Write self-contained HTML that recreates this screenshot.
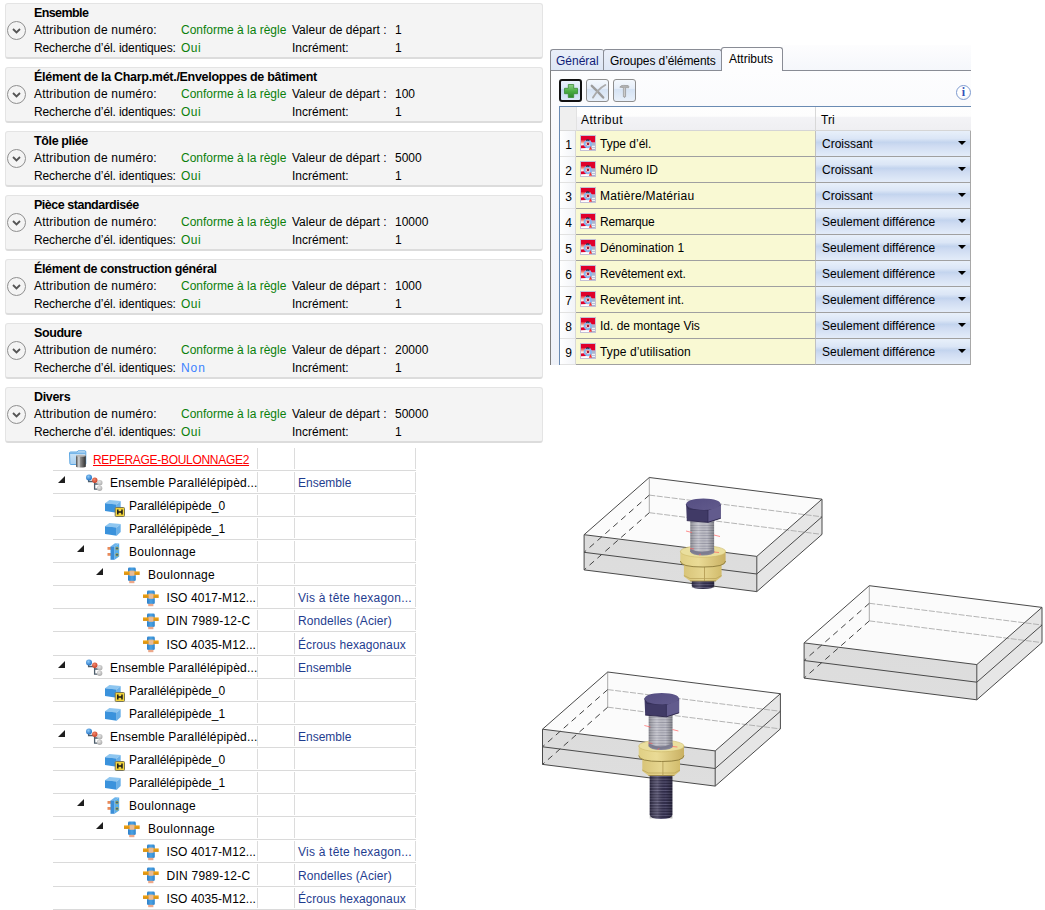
<!DOCTYPE html>
<html><head><meta charset="utf-8">
<style>
*{box-sizing:border-box;margin:0;padding:0}
html,body{width:1045px;height:910px;overflow:hidden;background:#fff;font-family:"Liberation Sans",sans-serif;font-size:12px;color:#000}
.a{position:absolute;white-space:nowrap;line-height:14px}
.pn{position:absolute;left:5px;width:538px;height:56px;background:#f4f4f4;border:1px solid #e4e4e4;border-bottom:2px solid #dcdcdc;border-radius:3px}
.pn .t{left:28px;top:2px;font-weight:bold;font-size:12.5px}
.pn .l1,.pn .l2{left:28px}
.pn .l1{top:19px}.pn .l2{top:37px}
.pn .g{color:#0b800b}
.pn .bl{color:#3b82ff}
.pn .c1{left:175px}
.pn .c2{left:286px}
.pn .c3{left:389px}
.pn .circ{position:absolute;left:1px;top:17px;width:19px;height:19px;border:1px solid #8f8f8f;border-radius:50%;background:#f4f4f4}
.pn .circ svg{position:absolute;left:4px;top:6px}
.rp{position:absolute;left:0;top:0;width:971px;height:365px;clip-path:inset(0 0 0 545px);overflow:hidden}
.tab{position:absolute;top:49px;height:22px;border:1px solid #898c95;border-bottom:none;border-radius:3px 3px 0 0;background:linear-gradient(#eaeff9,#dde6f5);font-size:12px;line-height:22px;padding-left:6px}
.t1{left:550px;width:54px;color:#101c78;border-right:none;padding-left:5px;letter-spacing:0px}
.t2{left:603px;width:119px;border-left:1px solid #898c95;padding-left:6px;letter-spacing:-0.1px}
.t3{left:721px;top:47px;height:24px;width:62px;background:#fdfdfe;padding-left:7px;line-height:22px;z-index:2}
.panelbox{position:absolute;left:550px;top:70px;width:430px;height:300px;border-left:1px solid #7d7d7d;border-top:1px solid #898c95;background:linear-gradient(#fdfdfe 0%,#f8f9fc 20%,#eef1f8 100%)}
.btn{position:absolute;top:79px;width:23px;height:23px;border:1px solid #8e8e8e;border-radius:3px;background:linear-gradient(#f4f8fd 0%,#e6eef9 40%,#d6e3f4 45%,#e8f0fa 100%)}
.btn svg{position:absolute}
.b1{left:559px;border:2px solid #111;background:linear-gradient(#eaf2fc 0%,#d8e6f8 40%,#c2d6f0 45%,#dde9f8 100%)}
.b1 svg{left:3px;top:3px}
.b2{left:586px}.b2 svg{left:2px;top:2px}
.b3{left:613px}.b3 svg{left:4px;top:3px}
.info{position:absolute;left:956px;top:85px;width:15px;height:15px;border:1px solid #7f9bcf;border-radius:50%;background:radial-gradient(circle at 40% 35%,#fff 50%,#e8ecf4);text-align:center}
.info span{position:absolute;left:0;width:13px;top:-1px;font:bold 12px "Liberation Serif",serif;color:#3452b8;line-height:14px}
.tbl{position:absolute;left:559px;top:106px;width:420px;height:260px;border-left:1px solid #6a8bb3;border-top:1px solid #6a8bb3;overflow:hidden}
.corner{position:absolute;left:0;top:0;width:16px;height:24px;background:#efefef;border-bottom:1px solid #dadada}
.hd{position:absolute;top:0;height:24px;background:linear-gradient(#fefefe 0%,#fdfdfd 40%,#f3f3f6 45%,#efeff2 100%);border-bottom:1px solid #d5d5d5;line-height:26px;padding-left:4px;font-size:12px}
.hd1{left:16px;width:240px;border-left:1px solid #e2e2e2;letter-spacing:0.5px}
.hd2{left:255px;width:161px;padding-left:5px;border-left:1px solid #d8d8d8}
.rn{position:absolute;left:0;width:16px;height:26px;background:linear-gradient(90deg,#fff,#f2f4f8);border-right:1px solid #d8d8d8;border-bottom:1px solid #e2e2e2;font-size:12px;line-height:27px;text-align:center}
.rn span{position:relative;left:1px;top:1px}
.ra{position:absolute;left:16px;width:239px;height:26px;background:#f9f9d3;border-bottom:1px solid #a0a0a0;font-size:12px;line-height:27px}
.ra .ric{position:absolute;left:4px;top:4px}
.ra span{position:absolute;left:24px}
.rt{position:absolute;left:255px;width:156px;height:26px;border-left:1px solid #c0c0c0;border-right:1px solid #a8a8a8;border-bottom:1px solid #a0a0a0;background:linear-gradient(#e8f0fa 0%,#dbe6f6 30%,#c3d4ee 45%,#cfdcf2 60%,#e3ecf9 100%);font-size:12px;line-height:27px}
.rt span{position:absolute;left:6px}
.rt i{position:absolute;left:142px;top:10px;width:0;height:0;border-left:4px solid transparent;border-right:4px solid transparent;border-top:4.5px solid #000}
.rclip{position:absolute;left:0;top:365px;width:1045px;height:5px;background:#fff}
.tree{position:absolute;left:0;top:0;width:1045px;height:910px}
.tr{position:absolute;left:0;width:416px;border-bottom:1px solid #dadada;margin-left:0}
.tr::before{content:"";position:absolute;left:0;width:53px;top:0;bottom:-1px;background:#fff}
.tr .v{position:absolute;top:1px;bottom:1px;width:1px;background:#dcdcdc}
.tr .v1{left:257px}.tr .v2{left:294px}.tr .v3{left:415px}
.tr .tri{position:absolute;top:5px}
.tr .ic{position:absolute}
.tt{position:absolute;top:1px;line-height:23px;font-size:12px;white-space:nowrap}
.tt.red{color:#f00;text-decoration:underline;text-underline-offset:1px}
.tt.c3{left:298px;color:#1f3d8f}
.tabbg{position:absolute;left:782px;top:45px;width:189px;height:25px;background:linear-gradient(#fdfdfe,#f5f7fb)}

</style></head><body>
<div class="pn" style="top:3px">
<div class="circ"><svg width="9" height="6" viewBox="0 0 9 6"><path d="M1 1 L4.5 4.5 L8 1" fill="none" stroke="#555" stroke-width="1.8"/></svg></div>
<div class="a t" style="letter-spacing:-0.6px">Ensemble</div>
<div class="a l1" style="letter-spacing:0.22px">Attribution de numéro:</div><div class="a l1 c1 g">Conforme à la règle</div><div class="a l1 c2">Valeur de départ :</div><div class="a l1 c3">1</div>
<div class="a l2" style="letter-spacing:-0.11px">Recherche d’él. identiques:</div><div class="a l2 c1 g" style="letter-spacing:0.5px">Oui</div><div class="a l2 c2">Incrément:</div><div class="a l2 c3">1</div>
</div>
<div class="pn" style="top:67px">
<div class="circ"><svg width="9" height="6" viewBox="0 0 9 6"><path d="M1 1 L4.5 4.5 L8 1" fill="none" stroke="#555" stroke-width="1.8"/></svg></div>
<div class="a t" style="letter-spacing:-0.29px">Élément de la Charp.mét./Enveloppes de bâtiment</div>
<div class="a l1" style="letter-spacing:0.22px">Attribution de numéro:</div><div class="a l1 c1 g">Conforme à la règle</div><div class="a l1 c2">Valeur de départ :</div><div class="a l1 c3">100</div>
<div class="a l2" style="letter-spacing:-0.11px">Recherche d’él. identiques:</div><div class="a l2 c1 g" style="letter-spacing:0.5px">Oui</div><div class="a l2 c2">Incrément:</div><div class="a l2 c3">1</div>
</div>
<div class="pn" style="top:131px">
<div class="circ"><svg width="9" height="6" viewBox="0 0 9 6"><path d="M1 1 L4.5 4.5 L8 1" fill="none" stroke="#555" stroke-width="1.8"/></svg></div>
<div class="a t" style="letter-spacing:-0.37px">Tôle pliée</div>
<div class="a l1" style="letter-spacing:0.22px">Attribution de numéro:</div><div class="a l1 c1 g">Conforme à la règle</div><div class="a l1 c2">Valeur de départ :</div><div class="a l1 c3">5000</div>
<div class="a l2" style="letter-spacing:-0.11px">Recherche d’él. identiques:</div><div class="a l2 c1 g" style="letter-spacing:0.5px">Oui</div><div class="a l2 c2">Incrément:</div><div class="a l2 c3">1</div>
</div>
<div class="pn" style="top:195px">
<div class="circ"><svg width="9" height="6" viewBox="0 0 9 6"><path d="M1 1 L4.5 4.5 L8 1" fill="none" stroke="#555" stroke-width="1.8"/></svg></div>
<div class="a t" style="letter-spacing:-0.48px">Pièce standardisée</div>
<div class="a l1" style="letter-spacing:0.22px">Attribution de numéro:</div><div class="a l1 c1 g">Conforme à la règle</div><div class="a l1 c2">Valeur de départ :</div><div class="a l1 c3">10000</div>
<div class="a l2" style="letter-spacing:-0.11px">Recherche d’él. identiques:</div><div class="a l2 c1 g" style="letter-spacing:0.5px">Oui</div><div class="a l2 c2">Incrément:</div><div class="a l2 c3">1</div>
</div>
<div class="pn" style="top:259px">
<div class="circ"><svg width="9" height="6" viewBox="0 0 9 6"><path d="M1 1 L4.5 4.5 L8 1" fill="none" stroke="#555" stroke-width="1.8"/></svg></div>
<div class="a t" style="letter-spacing:-0.36px">Élément de construction général</div>
<div class="a l1" style="letter-spacing:0.22px">Attribution de numéro:</div><div class="a l1 c1 g">Conforme à la règle</div><div class="a l1 c2">Valeur de départ :</div><div class="a l1 c3">1000</div>
<div class="a l2" style="letter-spacing:-0.11px">Recherche d’él. identiques:</div><div class="a l2 c1 g" style="letter-spacing:0.5px">Oui</div><div class="a l2 c2">Incrément:</div><div class="a l2 c3">1</div>
</div>
<div class="pn" style="top:323px">
<div class="circ"><svg width="9" height="6" viewBox="0 0 9 6"><path d="M1 1 L4.5 4.5 L8 1" fill="none" stroke="#555" stroke-width="1.8"/></svg></div>
<div class="a t" style="letter-spacing:-0.41px">Soudure</div>
<div class="a l1" style="letter-spacing:0.22px">Attribution de numéro:</div><div class="a l1 c1 g">Conforme à la règle</div><div class="a l1 c2">Valeur de départ :</div><div class="a l1 c3">20000</div>
<div class="a l2" style="letter-spacing:-0.11px">Recherche d’él. identiques:</div><div class="a l2 c1 bl" style="letter-spacing:0.9px">Non</div><div class="a l2 c2">Incrément:</div><div class="a l2 c3">1</div>
</div>
<div class="pn" style="top:387px">
<div class="circ"><svg width="9" height="6" viewBox="0 0 9 6"><path d="M1 1 L4.5 4.5 L8 1" fill="none" stroke="#555" stroke-width="1.8"/></svg></div>
<div class="a t" style="letter-spacing:-0.32px">Divers</div>
<div class="a l1" style="letter-spacing:0.22px">Attribution de numéro:</div><div class="a l1 c1 g">Conforme à la règle</div><div class="a l1 c2">Valeur de départ :</div><div class="a l1 c3">50000</div>
<div class="a l2" style="letter-spacing:-0.11px">Recherche d’él. identiques:</div><div class="a l2 c1 g" style="letter-spacing:0.5px">Oui</div><div class="a l2 c2">Incrément:</div><div class="a l2 c3">1</div>
</div>
<div class="rp">
<svg width="0" height="0" style="position:absolute"><defs><linearGradient id="ricg" x1="0" y1="0" x2="0" y2="1"><stop offset="0" stop-color="#e8203a"/><stop offset="0.35" stop-color="#f38a78"/><stop offset="0.7" stop-color="#fbe0d8"/><stop offset="1" stop-color="#fff"/></linearGradient></defs></svg>
<div class="tabbg"></div>
<div class="tab t1">Général</div>
<div class="tab t2">Groupes d’éléments</div>
<div class="panelbox"></div>
<div class="tab t3">Attributs</div>
<div class="btn b1"><svg width="14" height="14" viewBox="0 0 14 14"><defs><linearGradient id="gp" x1="0" y1="0" x2="0" y2="1"><stop offset="0" stop-color="#8fd08a"/><stop offset="0.5" stop-color="#4caf45"/><stop offset="1" stop-color="#2d8a2a"/></linearGradient></defs><path d="M4.3 0.5 H9.7 V4.3 H13.5 V9.7 H9.7 V13.5 H4.3 V9.7 H0.5 V4.3 H4.3Z" fill="url(#gp)" stroke="#3a8c36" stroke-width="0.8"/></svg></div>
<div class="btn b2"><svg width="18" height="18" viewBox="0 0 18 18"><path d="M2.8 3.8 Q8.5 9 14.2 15.5" fill="none" stroke="#9c9c9c" stroke-width="2.4" stroke-linecap="round"/><path d="M16.3 3 Q9 7 4 15.6" fill="none" stroke="#ababab" stroke-width="1.9" stroke-linecap="round"/></svg></div>
<div class="btn b3"><svg width="14" height="16" viewBox="0 0 14 16"><path d="M1.8 4.2 Q2.5 2.2 5.5 2.4 L10.2 2.6 Q11.2 3.2 10.6 4.8 L7.6 4.6 L7.6 13.6 Q6.6 15.4 5.4 13.6 L5.4 4.6 Q3.8 4.4 1.8 4.2Z" fill="#b2b2b2" stroke="#8a8a8a" stroke-width="0.6"/><path d="M6.3 5 L6.3 13" stroke="#dedede" stroke-width="0.7"/></svg></div>
<div class="info"><span>i</span></div>
<div class="tbl">
<div class="corner"></div>
<div class="hd hd1">Attribut</div>
<div class="hd hd2">Tri</div>
<div class="rn" style="top:24px"><span>1</span></div><div class="ra" style="top:24px"><svg class="ric" width="16" height="16" viewBox="0 0 16 16"><rect x="0.5" y="0.5" width="15" height="15" fill="#fff" stroke="#c4c0d4"/><rect x="1" y="1" width="14" height="4.2" fill="#e0002a"/><rect x="1" y="5" width="10" height="5.4" fill="url(#ricg)"/><rect x="11" y="5" width="4" height="2.7" fill="#e0002a"/><rect x="11" y="7.5" width="4" height="7.5" fill="#a9b5cf"/><rect x="12" y="10.8" width="3" height="1" fill="#fff"/><rect x="12" y="12.8" width="3" height="1" fill="#fff"/><path d="M1 10.4 L6.5 10 L6.5 13 L1 13.3Z" fill="#e0002a"/><circle cx="7.8" cy="9" r="3.2" fill="none" stroke="#8ab6ee" stroke-width="2"/><path d="M6.2 5.4 Q7.8 4.3 9.4 5.4" fill="none" stroke="#1e2636" stroke-width="1.2"/><circle cx="8" cy="9.1" r="1.3" fill="#a81c3c"/><path d="M8.9 14.8 L10.4 11.1 L11.9 14.8Z" fill="#ff2a2a"/></svg><span style="letter-spacing:0px">Type d’él.</span></div><div class="rt" style="top:24px"><span>Croissant</span><i></i></div>
<div class="rn" style="top:50px"><span>2</span></div><div class="ra" style="top:50px"><svg class="ric" width="16" height="16" viewBox="0 0 16 16"><rect x="0.5" y="0.5" width="15" height="15" fill="#fff" stroke="#c4c0d4"/><rect x="1" y="1" width="14" height="4.2" fill="#e0002a"/><rect x="1" y="5" width="10" height="5.4" fill="url(#ricg)"/><rect x="11" y="5" width="4" height="2.7" fill="#e0002a"/><rect x="11" y="7.5" width="4" height="7.5" fill="#a9b5cf"/><rect x="12" y="10.8" width="3" height="1" fill="#fff"/><rect x="12" y="12.8" width="3" height="1" fill="#fff"/><path d="M1 10.4 L6.5 10 L6.5 13 L1 13.3Z" fill="#e0002a"/><circle cx="7.8" cy="9" r="3.2" fill="none" stroke="#8ab6ee" stroke-width="2"/><path d="M6.2 5.4 Q7.8 4.3 9.4 5.4" fill="none" stroke="#1e2636" stroke-width="1.2"/><circle cx="8" cy="9.1" r="1.3" fill="#a81c3c"/><path d="M8.9 14.8 L10.4 11.1 L11.9 14.8Z" fill="#ff2a2a"/></svg><span style="letter-spacing:0px">Numéro ID</span></div><div class="rt" style="top:50px"><span>Croissant</span><i></i></div>
<div class="rn" style="top:76px"><span>3</span></div><div class="ra" style="top:76px"><svg class="ric" width="16" height="16" viewBox="0 0 16 16"><rect x="0.5" y="0.5" width="15" height="15" fill="#fff" stroke="#c4c0d4"/><rect x="1" y="1" width="14" height="4.2" fill="#e0002a"/><rect x="1" y="5" width="10" height="5.4" fill="url(#ricg)"/><rect x="11" y="5" width="4" height="2.7" fill="#e0002a"/><rect x="11" y="7.5" width="4" height="7.5" fill="#a9b5cf"/><rect x="12" y="10.8" width="3" height="1" fill="#fff"/><rect x="12" y="12.8" width="3" height="1" fill="#fff"/><path d="M1 10.4 L6.5 10 L6.5 13 L1 13.3Z" fill="#e0002a"/><circle cx="7.8" cy="9" r="3.2" fill="none" stroke="#8ab6ee" stroke-width="2"/><path d="M6.2 5.4 Q7.8 4.3 9.4 5.4" fill="none" stroke="#1e2636" stroke-width="1.2"/><circle cx="8" cy="9.1" r="1.3" fill="#a81c3c"/><path d="M8.9 14.8 L10.4 11.1 L11.9 14.8Z" fill="#ff2a2a"/></svg><span style="letter-spacing:0.27px">Matière/Matériau</span></div><div class="rt" style="top:76px"><span>Croissant</span><i></i></div>
<div class="rn" style="top:102px"><span>4</span></div><div class="ra" style="top:102px"><svg class="ric" width="16" height="16" viewBox="0 0 16 16"><rect x="0.5" y="0.5" width="15" height="15" fill="#fff" stroke="#c4c0d4"/><rect x="1" y="1" width="14" height="4.2" fill="#e0002a"/><rect x="1" y="5" width="10" height="5.4" fill="url(#ricg)"/><rect x="11" y="5" width="4" height="2.7" fill="#e0002a"/><rect x="11" y="7.5" width="4" height="7.5" fill="#a9b5cf"/><rect x="12" y="10.8" width="3" height="1" fill="#fff"/><rect x="12" y="12.8" width="3" height="1" fill="#fff"/><path d="M1 10.4 L6.5 10 L6.5 13 L1 13.3Z" fill="#e0002a"/><circle cx="7.8" cy="9" r="3.2" fill="none" stroke="#8ab6ee" stroke-width="2"/><path d="M6.2 5.4 Q7.8 4.3 9.4 5.4" fill="none" stroke="#1e2636" stroke-width="1.2"/><circle cx="8" cy="9.1" r="1.3" fill="#a81c3c"/><path d="M8.9 14.8 L10.4 11.1 L11.9 14.8Z" fill="#ff2a2a"/></svg><span style="letter-spacing:-0.2px">Remarque</span></div><div class="rt" style="top:102px"><span>Seulement différence</span><i></i></div>
<div class="rn" style="top:128px"><span>5</span></div><div class="ra" style="top:128px"><svg class="ric" width="16" height="16" viewBox="0 0 16 16"><rect x="0.5" y="0.5" width="15" height="15" fill="#fff" stroke="#c4c0d4"/><rect x="1" y="1" width="14" height="4.2" fill="#e0002a"/><rect x="1" y="5" width="10" height="5.4" fill="url(#ricg)"/><rect x="11" y="5" width="4" height="2.7" fill="#e0002a"/><rect x="11" y="7.5" width="4" height="7.5" fill="#a9b5cf"/><rect x="12" y="10.8" width="3" height="1" fill="#fff"/><rect x="12" y="12.8" width="3" height="1" fill="#fff"/><path d="M1 10.4 L6.5 10 L6.5 13 L1 13.3Z" fill="#e0002a"/><circle cx="7.8" cy="9" r="3.2" fill="none" stroke="#8ab6ee" stroke-width="2"/><path d="M6.2 5.4 Q7.8 4.3 9.4 5.4" fill="none" stroke="#1e2636" stroke-width="1.2"/><circle cx="8" cy="9.1" r="1.3" fill="#a81c3c"/><path d="M8.9 14.8 L10.4 11.1 L11.9 14.8Z" fill="#ff2a2a"/></svg><span style="letter-spacing:0px">Dénomination 1</span></div><div class="rt" style="top:128px"><span>Seulement différence</span><i></i></div>
<div class="rn" style="top:154px"><span>6</span></div><div class="ra" style="top:154px"><svg class="ric" width="16" height="16" viewBox="0 0 16 16"><rect x="0.5" y="0.5" width="15" height="15" fill="#fff" stroke="#c4c0d4"/><rect x="1" y="1" width="14" height="4.2" fill="#e0002a"/><rect x="1" y="5" width="10" height="5.4" fill="url(#ricg)"/><rect x="11" y="5" width="4" height="2.7" fill="#e0002a"/><rect x="11" y="7.5" width="4" height="7.5" fill="#a9b5cf"/><rect x="12" y="10.8" width="3" height="1" fill="#fff"/><rect x="12" y="12.8" width="3" height="1" fill="#fff"/><path d="M1 10.4 L6.5 10 L6.5 13 L1 13.3Z" fill="#e0002a"/><circle cx="7.8" cy="9" r="3.2" fill="none" stroke="#8ab6ee" stroke-width="2"/><path d="M6.2 5.4 Q7.8 4.3 9.4 5.4" fill="none" stroke="#1e2636" stroke-width="1.2"/><circle cx="8" cy="9.1" r="1.3" fill="#a81c3c"/><path d="M8.9 14.8 L10.4 11.1 L11.9 14.8Z" fill="#ff2a2a"/></svg><span style="letter-spacing:-0.11px">Revêtement ext.</span></div><div class="rt" style="top:154px"><span>Seulement différence</span><i></i></div>
<div class="rn" style="top:180px"><span>7</span></div><div class="ra" style="top:180px"><svg class="ric" width="16" height="16" viewBox="0 0 16 16"><rect x="0.5" y="0.5" width="15" height="15" fill="#fff" stroke="#c4c0d4"/><rect x="1" y="1" width="14" height="4.2" fill="#e0002a"/><rect x="1" y="5" width="10" height="5.4" fill="url(#ricg)"/><rect x="11" y="5" width="4" height="2.7" fill="#e0002a"/><rect x="11" y="7.5" width="4" height="7.5" fill="#a9b5cf"/><rect x="12" y="10.8" width="3" height="1" fill="#fff"/><rect x="12" y="12.8" width="3" height="1" fill="#fff"/><path d="M1 10.4 L6.5 10 L6.5 13 L1 13.3Z" fill="#e0002a"/><circle cx="7.8" cy="9" r="3.2" fill="none" stroke="#8ab6ee" stroke-width="2"/><path d="M6.2 5.4 Q7.8 4.3 9.4 5.4" fill="none" stroke="#1e2636" stroke-width="1.2"/><circle cx="8" cy="9.1" r="1.3" fill="#a81c3c"/><path d="M8.9 14.8 L10.4 11.1 L11.9 14.8Z" fill="#ff2a2a"/></svg><span style="letter-spacing:0px">Revêtement int.</span></div><div class="rt" style="top:180px"><span>Seulement différence</span><i></i></div>
<div class="rn" style="top:206px"><span>8</span></div><div class="ra" style="top:206px"><svg class="ric" width="16" height="16" viewBox="0 0 16 16"><rect x="0.5" y="0.5" width="15" height="15" fill="#fff" stroke="#c4c0d4"/><rect x="1" y="1" width="14" height="4.2" fill="#e0002a"/><rect x="1" y="5" width="10" height="5.4" fill="url(#ricg)"/><rect x="11" y="5" width="4" height="2.7" fill="#e0002a"/><rect x="11" y="7.5" width="4" height="7.5" fill="#a9b5cf"/><rect x="12" y="10.8" width="3" height="1" fill="#fff"/><rect x="12" y="12.8" width="3" height="1" fill="#fff"/><path d="M1 10.4 L6.5 10 L6.5 13 L1 13.3Z" fill="#e0002a"/><circle cx="7.8" cy="9" r="3.2" fill="none" stroke="#8ab6ee" stroke-width="2"/><path d="M6.2 5.4 Q7.8 4.3 9.4 5.4" fill="none" stroke="#1e2636" stroke-width="1.2"/><circle cx="8" cy="9.1" r="1.3" fill="#a81c3c"/><path d="M8.9 14.8 L10.4 11.1 L11.9 14.8Z" fill="#ff2a2a"/></svg><span style="letter-spacing:0px">Id. de montage Vis</span></div><div class="rt" style="top:206px"><span>Seulement différence</span><i></i></div>
<div class="rn" style="top:232px"><span>9</span></div><div class="ra" style="top:232px"><svg class="ric" width="16" height="16" viewBox="0 0 16 16"><rect x="0.5" y="0.5" width="15" height="15" fill="#fff" stroke="#c4c0d4"/><rect x="1" y="1" width="14" height="4.2" fill="#e0002a"/><rect x="1" y="5" width="10" height="5.4" fill="url(#ricg)"/><rect x="11" y="5" width="4" height="2.7" fill="#e0002a"/><rect x="11" y="7.5" width="4" height="7.5" fill="#a9b5cf"/><rect x="12" y="10.8" width="3" height="1" fill="#fff"/><rect x="12" y="12.8" width="3" height="1" fill="#fff"/><path d="M1 10.4 L6.5 10 L6.5 13 L1 13.3Z" fill="#e0002a"/><circle cx="7.8" cy="9" r="3.2" fill="none" stroke="#8ab6ee" stroke-width="2"/><path d="M6.2 5.4 Q7.8 4.3 9.4 5.4" fill="none" stroke="#1e2636" stroke-width="1.2"/><circle cx="8" cy="9.1" r="1.3" fill="#a81c3c"/><path d="M8.9 14.8 L10.4 11.1 L11.9 14.8Z" fill="#ff2a2a"/></svg><span style="letter-spacing:0.12px">Type d’utilisation</span></div><div class="rt" style="top:232px"><span>Seulement différence</span><i></i></div>
</div></div>
<svg width="0" height="0" style="position:absolute">
<defs>
<linearGradient id="cylg" x1="0" y1="0" x2="1" y2="0"><stop offset="0" stop-color="#4a4a4a"/><stop offset="0.3" stop-color="#dcdcdc"/><stop offset="0.45" stop-color="#8a8a8a"/><stop offset="1" stop-color="#2e2e2e"/></linearGradient>
<linearGradient id="fldg" x1="0" y1="0" x2="0" y2="1"><stop offset="0" stop-color="#cfe6f8"/><stop offset="1" stop-color="#a9d0f0"/></linearGradient>
<radialGradient id="bb" cx="0.4" cy="0.35" r="0.7"><stop offset="0" stop-color="#8cc8f8"/><stop offset="1" stop-color="#1a6cc0"/></radialGradient>
<radialGradient id="rb" cx="0.4" cy="0.35" r="0.7"><stop offset="0" stop-color="#f08a70"/><stop offset="1" stop-color="#c8381e"/></radialGradient>
<radialGradient id="gb" cx="0.4" cy="0.35" r="0.7"><stop offset="0" stop-color="#e8e8e8"/><stop offset="1" stop-color="#a8a8a8"/></radialGradient>
<linearGradient id="orb" x1="0" y1="0" x2="0" y2="1"><stop offset="0" stop-color="#f4a81a"/><stop offset="1" stop-color="#d48a08"/></linearGradient>
<linearGradient id="blb" x1="0" y1="0" x2="1" y2="0"><stop offset="0" stop-color="#2f7fc8"/><stop offset="0.5" stop-color="#49a2e4"/><stop offset="1" stop-color="#2f84cc"/></linearGradient>
</defs></svg><div class="tree">
<div class="tr" style="top:447px;height:24px"><i class="v v1"></i><i class="v v2"></i><i class="v v3"></i><svg class="ic" style="left:69px;top:3.0px" width="18" height="19" viewBox="0 0 18 19"><path d="M0.5 3 Q0.5 2 1.5 2 L8 2 L9 0.8 L16 0.8 Q16.8 0.8 16.8 2 L16.8 13.5 Q16.8 14.5 15.8 14.5 L2 14.5 Q1 14.5 0.9 13.5Z" fill="url(#fldg)" stroke="#5ca6e2" stroke-width="1"/><path d="M1 3.2 L16.5 3.2" stroke="#6fb2e8" stroke-width="1.4"/><path d="M7 6 Q7 5 11.8 5 Q16.8 5 16.8 6 L16.8 16.5 Q16.8 17.6 11.8 17.6 Q7 17.6 7 16.5Z" fill="url(#cylg)"/><ellipse cx="11.9" cy="5.8" rx="4.9" ry="1" fill="#b8b8b8"/></svg><span class="tt red" style="left:93px;top:2px;letter-spacing:-0.3px">REPERAGE-BOULONNAGE2</span></div>
<div class="tr" style="top:471px;height:23px"><i class="v v1"></i><i class="v v2"></i><i class="v v3"></i><svg class="tri" style="left:58px;top:5.0px" width="8" height="8" viewBox="0 0 8 8"><path d="M0 7 L7 7 L7 0Z" fill="#1e1e1e"/></svg><svg class="ic" style="left:86px;top:3.0px" width="18" height="20" viewBox="0 0 18 20"><path d="M2.6 4 V7.5 H8.5 M8.6 8 V15.2 H13 M8.6 10 H13" fill="none" stroke="#4e5e6c" stroke-width="1.3"/><circle cx="3" cy="3.5" r="3" fill="url(#bb)"/><circle cx="8.8" cy="6.3" r="2.7" fill="url(#rb)"/><circle cx="13.8" cy="8.8" r="2.7" fill="url(#gb)"/><circle cx="13.6" cy="14.2" r="2.7" fill="url(#gb)"/></svg><span class="tt" style="left:110px;top:1px;letter-spacing:0.18px">Ensemble Parallélépipèd...</span><span class="tt c3" style="top:1px;letter-spacing:0px">Ensemble</span></div>
<div class="tr" style="top:494px;height:23px"><i class="v v1"></i><i class="v v2"></i><i class="v v3"></i><svg class="ic" style="left:105px;top:5.8px" width="21" height="18" viewBox="0 0 21 18"><path d="M0 3.3 L4.4 0 L15.7 1 L11.7 4.4Z" fill="#8ec6f0"/><path d="M0 3.3 L11.7 4.4 L11.7 12.7 L0 11Z" fill="#3a92dc"/><path d="M11.7 4.4 L15.7 1 L15.7 8.9 L11.7 12.7Z" fill="#6ab0e8"/><rect x="10.2" y="7.5" width="9.3" height="9" rx="1" fill="#f2d43c" stroke="#77745a" stroke-width="1"/><path d="M12.8 9.6 V14.4 M17 9.6 V14.4 M12.8 12 H17" stroke="#1a1a1a" stroke-width="1.5"/></svg><span class="tt" style="left:129px;top:1px;letter-spacing:0px">Parallélépipède_0</span></div>
<div class="tr" style="top:517px;height:23px"><i class="v v1"></i><i class="v v2"></i><i class="v v3"></i><svg class="ic" style="left:105px;top:5.8px" width="17" height="14" viewBox="0 0 17 14"><path d="M0 3.3 L4.4 0 L15.7 1 L11.7 4.4Z" fill="#8ec6f0"/><path d="M0 3.3 L11.7 4.4 L11.7 12.7 L0 11Z" fill="#3a92dc"/><path d="M11.7 4.4 L15.7 1 L15.7 8.9 L11.7 12.7Z" fill="#6ab0e8"/></svg><span class="tt" style="left:129px;top:1px;letter-spacing:0px">Parallélépipède_1</span></div>
<div class="tr" style="top:540px;height:23px"><i class="v v1"></i><i class="v v2"></i><i class="v v3"></i><svg class="tri" style="left:77px;top:5.0px" width="8" height="8" viewBox="0 0 8 8"><path d="M0 7 L7 7 L7 0Z" fill="#1e1e1e"/></svg><svg class="ic" style="left:106.5px;top:3.1px" width="14" height="18" viewBox="0 0 14 18"><rect x="0.5" y="4" width="3.5" height="2.8" fill="#e88a5a"/><rect x="0.5" y="10" width="3.5" height="2.8" fill="#e88a5a"/><path d="M3.5 3.4 L8 0.3 L12.2 0.5 L7.6 3.4Z" fill="#6cb4ec"/><path d="M3.5 3.4 L7.6 3.4 L7.6 16.8 L3.5 16.8Z" fill="#3a8ed8"/><path d="M7.6 3.4 L12.2 0.5 L12.2 13.5 L7.6 16.8Z" fill="#5aaeea"/><circle cx="10" cy="5.5" r="1.4" fill="#2a5a8a" stroke="#d8c030" stroke-width="0.6"/><circle cx="10" cy="11.8" r="1.4" fill="#2a5a8a" stroke="#d8c030" stroke-width="0.6"/></svg><span class="tt" style="left:129px;top:1px;letter-spacing:0.3px">Boulonnage</span></div>
<div class="tr" style="top:563px;height:23px"><i class="v v1"></i><i class="v v2"></i><i class="v v3"></i><svg class="tri" style="left:96px;top:5.0px" width="8" height="8" viewBox="0 0 8 8"><path d="M0 7 L7 7 L7 0Z" fill="#1e1e1e"/></svg><svg class="ic" style="left:124px;top:3.6px" width="16" height="19" viewBox="0 0 16 19"><rect x="4" y="0.6" width="7.8" height="5.2" rx="1.4" fill="url(#blb)"/><rect x="4" y="7.5" width="7.8" height="6.6" rx="1.4" fill="url(#blb)"/><rect x="5.2" y="13.8" width="5.2" height="2.4" fill="#eca88a"/><rect x="5.5" y="3.6" width="5" height="5.2" fill="#e6b894"/><rect x="0" y="4.4" width="15.7" height="3.5" fill="url(#orb)"/><rect x="5.6" y="4.2" width="4.8" height="4" fill="#e8bc98"/></svg><span class="tt" style="left:148px;top:1px;letter-spacing:0.3px">Boulonnage</span></div>
<div class="tr" style="top:586px;height:23px"><i class="v v1"></i><i class="v v2"></i><i class="v v3"></i><svg class="ic" style="left:143px;top:3.6px" width="16" height="19" viewBox="0 0 16 19"><rect x="4" y="0.6" width="7.8" height="5.2" rx="1.4" fill="url(#blb)"/><rect x="4" y="7.5" width="7.8" height="6.6" rx="1.4" fill="url(#blb)"/><rect x="5.2" y="13.8" width="5.2" height="2.4" fill="#eca88a"/><rect x="5.5" y="3.6" width="5" height="5.2" fill="#e6b894"/><rect x="0" y="4.4" width="15.7" height="3.5" fill="url(#orb)"/><rect x="5.6" y="4.2" width="4.8" height="4" fill="#e8bc98"/></svg><span class="tt" style="left:166.5px;top:1px;letter-spacing:0.1px">ISO 4017-M12...</span><span class="tt c3" style="top:1px;letter-spacing:0.22px">Vis à tête hexagon...</span></div>
<div class="tr" style="top:609px;height:23px"><i class="v v1"></i><i class="v v2"></i><i class="v v3"></i><svg class="ic" style="left:143px;top:3.6px" width="16" height="19" viewBox="0 0 16 19"><rect x="4" y="0.6" width="7.8" height="5.2" rx="1.4" fill="url(#blb)"/><rect x="4" y="7.5" width="7.8" height="6.6" rx="1.4" fill="url(#blb)"/><rect x="5.2" y="13.8" width="5.2" height="2.4" fill="#eca88a"/><rect x="5.5" y="3.6" width="5" height="5.2" fill="#e6b894"/><rect x="0" y="4.4" width="15.7" height="3.5" fill="url(#orb)"/><rect x="5.6" y="4.2" width="4.8" height="4" fill="#e8bc98"/></svg><span class="tt" style="left:166.5px;top:1px;letter-spacing:0.25px">DIN 7989-12-C</span><span class="tt c3" style="top:1px;letter-spacing:0.1px">Rondelles (Acier)</span></div>
<div class="tr" style="top:632px;height:24px"><i class="v v1"></i><i class="v v2"></i><i class="v v3"></i><svg class="ic" style="left:143px;top:4.1px" width="16" height="19" viewBox="0 0 16 19"><rect x="4" y="0.6" width="7.8" height="5.2" rx="1.4" fill="url(#blb)"/><rect x="4" y="7.5" width="7.8" height="6.6" rx="1.4" fill="url(#blb)"/><rect x="5.2" y="13.8" width="5.2" height="2.4" fill="#eca88a"/><rect x="5.5" y="3.6" width="5" height="5.2" fill="#e6b894"/><rect x="0" y="4.4" width="15.7" height="3.5" fill="url(#orb)"/><rect x="5.6" y="4.2" width="4.8" height="4" fill="#e8bc98"/></svg><span class="tt" style="left:166.5px;top:2px;letter-spacing:0.1px">ISO 4035-M12...</span><span class="tt c3" style="top:2px;letter-spacing:0.1px">Écrous hexagonaux</span></div>
<div class="tr" style="top:656px;height:23px"><i class="v v1"></i><i class="v v2"></i><i class="v v3"></i><svg class="tri" style="left:58px;top:5.0px" width="8" height="8" viewBox="0 0 8 8"><path d="M0 7 L7 7 L7 0Z" fill="#1e1e1e"/></svg><svg class="ic" style="left:86px;top:3.0px" width="18" height="20" viewBox="0 0 18 20"><path d="M2.6 4 V7.5 H8.5 M8.6 8 V15.2 H13 M8.6 10 H13" fill="none" stroke="#4e5e6c" stroke-width="1.3"/><circle cx="3" cy="3.5" r="3" fill="url(#bb)"/><circle cx="8.8" cy="6.3" r="2.7" fill="url(#rb)"/><circle cx="13.8" cy="8.8" r="2.7" fill="url(#gb)"/><circle cx="13.6" cy="14.2" r="2.7" fill="url(#gb)"/></svg><span class="tt" style="left:110px;top:1px;letter-spacing:0.18px">Ensemble Parallélépipèd...</span><span class="tt c3" style="top:1px;letter-spacing:0px">Ensemble</span></div>
<div class="tr" style="top:679px;height:23px"><i class="v v1"></i><i class="v v2"></i><i class="v v3"></i><svg class="ic" style="left:105px;top:5.8px" width="21" height="18" viewBox="0 0 21 18"><path d="M0 3.3 L4.4 0 L15.7 1 L11.7 4.4Z" fill="#8ec6f0"/><path d="M0 3.3 L11.7 4.4 L11.7 12.7 L0 11Z" fill="#3a92dc"/><path d="M11.7 4.4 L15.7 1 L15.7 8.9 L11.7 12.7Z" fill="#6ab0e8"/><rect x="10.2" y="7.5" width="9.3" height="9" rx="1" fill="#f2d43c" stroke="#77745a" stroke-width="1"/><path d="M12.8 9.6 V14.4 M17 9.6 V14.4 M12.8 12 H17" stroke="#1a1a1a" stroke-width="1.5"/></svg><span class="tt" style="left:129px;top:1px;letter-spacing:0px">Parallélépipède_0</span></div>
<div class="tr" style="top:702px;height:23px"><i class="v v1"></i><i class="v v2"></i><i class="v v3"></i><svg class="ic" style="left:105px;top:5.8px" width="17" height="14" viewBox="0 0 17 14"><path d="M0 3.3 L4.4 0 L15.7 1 L11.7 4.4Z" fill="#8ec6f0"/><path d="M0 3.3 L11.7 4.4 L11.7 12.7 L0 11Z" fill="#3a92dc"/><path d="M11.7 4.4 L15.7 1 L15.7 8.9 L11.7 12.7Z" fill="#6ab0e8"/></svg><span class="tt" style="left:129px;top:1px;letter-spacing:0px">Parallélépipède_1</span></div>
<div class="tr" style="top:725px;height:23px"><i class="v v1"></i><i class="v v2"></i><i class="v v3"></i><svg class="tri" style="left:58px;top:5.0px" width="8" height="8" viewBox="0 0 8 8"><path d="M0 7 L7 7 L7 0Z" fill="#1e1e1e"/></svg><svg class="ic" style="left:86px;top:3.0px" width="18" height="20" viewBox="0 0 18 20"><path d="M2.6 4 V7.5 H8.5 M8.6 8 V15.2 H13 M8.6 10 H13" fill="none" stroke="#4e5e6c" stroke-width="1.3"/><circle cx="3" cy="3.5" r="3" fill="url(#bb)"/><circle cx="8.8" cy="6.3" r="2.7" fill="url(#rb)"/><circle cx="13.8" cy="8.8" r="2.7" fill="url(#gb)"/><circle cx="13.6" cy="14.2" r="2.7" fill="url(#gb)"/></svg><span class="tt" style="left:110px;top:1px;letter-spacing:0.18px">Ensemble Parallélépipèd...</span><span class="tt c3" style="top:1px;letter-spacing:0px">Ensemble</span></div>
<div class="tr" style="top:748px;height:23px"><i class="v v1"></i><i class="v v2"></i><i class="v v3"></i><svg class="ic" style="left:105px;top:5.8px" width="21" height="18" viewBox="0 0 21 18"><path d="M0 3.3 L4.4 0 L15.7 1 L11.7 4.4Z" fill="#8ec6f0"/><path d="M0 3.3 L11.7 4.4 L11.7 12.7 L0 11Z" fill="#3a92dc"/><path d="M11.7 4.4 L15.7 1 L15.7 8.9 L11.7 12.7Z" fill="#6ab0e8"/><rect x="10.2" y="7.5" width="9.3" height="9" rx="1" fill="#f2d43c" stroke="#77745a" stroke-width="1"/><path d="M12.8 9.6 V14.4 M17 9.6 V14.4 M12.8 12 H17" stroke="#1a1a1a" stroke-width="1.5"/></svg><span class="tt" style="left:129px;top:1px;letter-spacing:0px">Parallélépipède_0</span></div>
<div class="tr" style="top:771px;height:23px"><i class="v v1"></i><i class="v v2"></i><i class="v v3"></i><svg class="ic" style="left:105px;top:5.8px" width="17" height="14" viewBox="0 0 17 14"><path d="M0 3.3 L4.4 0 L15.7 1 L11.7 4.4Z" fill="#8ec6f0"/><path d="M0 3.3 L11.7 4.4 L11.7 12.7 L0 11Z" fill="#3a92dc"/><path d="M11.7 4.4 L15.7 1 L15.7 8.9 L11.7 12.7Z" fill="#6ab0e8"/></svg><span class="tt" style="left:129px;top:1px;letter-spacing:0px">Parallélépipède_1</span></div>
<div class="tr" style="top:794px;height:23px"><i class="v v1"></i><i class="v v2"></i><i class="v v3"></i><svg class="tri" style="left:77px;top:5.0px" width="8" height="8" viewBox="0 0 8 8"><path d="M0 7 L7 7 L7 0Z" fill="#1e1e1e"/></svg><svg class="ic" style="left:106.5px;top:3.1px" width="14" height="18" viewBox="0 0 14 18"><rect x="0.5" y="4" width="3.5" height="2.8" fill="#e88a5a"/><rect x="0.5" y="10" width="3.5" height="2.8" fill="#e88a5a"/><path d="M3.5 3.4 L8 0.3 L12.2 0.5 L7.6 3.4Z" fill="#6cb4ec"/><path d="M3.5 3.4 L7.6 3.4 L7.6 16.8 L3.5 16.8Z" fill="#3a8ed8"/><path d="M7.6 3.4 L12.2 0.5 L12.2 13.5 L7.6 16.8Z" fill="#5aaeea"/><circle cx="10" cy="5.5" r="1.4" fill="#2a5a8a" stroke="#d8c030" stroke-width="0.6"/><circle cx="10" cy="11.8" r="1.4" fill="#2a5a8a" stroke="#d8c030" stroke-width="0.6"/></svg><span class="tt" style="left:129px;top:1px;letter-spacing:0.3px">Boulonnage</span></div>
<div class="tr" style="top:817px;height:23px"><i class="v v1"></i><i class="v v2"></i><i class="v v3"></i><svg class="tri" style="left:96px;top:5.0px" width="8" height="8" viewBox="0 0 8 8"><path d="M0 7 L7 7 L7 0Z" fill="#1e1e1e"/></svg><svg class="ic" style="left:124px;top:3.6px" width="16" height="19" viewBox="0 0 16 19"><rect x="4" y="0.6" width="7.8" height="5.2" rx="1.4" fill="url(#blb)"/><rect x="4" y="7.5" width="7.8" height="6.6" rx="1.4" fill="url(#blb)"/><rect x="5.2" y="13.8" width="5.2" height="2.4" fill="#eca88a"/><rect x="5.5" y="3.6" width="5" height="5.2" fill="#e6b894"/><rect x="0" y="4.4" width="15.7" height="3.5" fill="url(#orb)"/><rect x="5.6" y="4.2" width="4.8" height="4" fill="#e8bc98"/></svg><span class="tt" style="left:148px;top:1px;letter-spacing:0.3px">Boulonnage</span></div>
<div class="tr" style="top:840px;height:23px"><i class="v v1"></i><i class="v v2"></i><i class="v v3"></i><svg class="ic" style="left:143px;top:3.6px" width="16" height="19" viewBox="0 0 16 19"><rect x="4" y="0.6" width="7.8" height="5.2" rx="1.4" fill="url(#blb)"/><rect x="4" y="7.5" width="7.8" height="6.6" rx="1.4" fill="url(#blb)"/><rect x="5.2" y="13.8" width="5.2" height="2.4" fill="#eca88a"/><rect x="5.5" y="3.6" width="5" height="5.2" fill="#e6b894"/><rect x="0" y="4.4" width="15.7" height="3.5" fill="url(#orb)"/><rect x="5.6" y="4.2" width="4.8" height="4" fill="#e8bc98"/></svg><span class="tt" style="left:166.5px;top:1px;letter-spacing:0.1px">ISO 4017-M12...</span><span class="tt c3" style="top:1px;letter-spacing:0.22px">Vis à tête hexagon...</span></div>
<div class="tr" style="top:863px;height:24px"><i class="v v1"></i><i class="v v2"></i><i class="v v3"></i><svg class="ic" style="left:143px;top:4.1px" width="16" height="19" viewBox="0 0 16 19"><rect x="4" y="0.6" width="7.8" height="5.2" rx="1.4" fill="url(#blb)"/><rect x="4" y="7.5" width="7.8" height="6.6" rx="1.4" fill="url(#blb)"/><rect x="5.2" y="13.8" width="5.2" height="2.4" fill="#eca88a"/><rect x="5.5" y="3.6" width="5" height="5.2" fill="#e6b894"/><rect x="0" y="4.4" width="15.7" height="3.5" fill="url(#orb)"/><rect x="5.6" y="4.2" width="4.8" height="4" fill="#e8bc98"/></svg><span class="tt" style="left:166.5px;top:2px;letter-spacing:0.25px">DIN 7989-12-C</span><span class="tt c3" style="top:2px;letter-spacing:0.1px">Rondelles (Acier)</span></div>
<div class="tr" style="top:887px;height:23px"><i class="v v1"></i><i class="v v2"></i><i class="v v3"></i><svg class="ic" style="left:143px;top:3.6px" width="16" height="19" viewBox="0 0 16 19"><rect x="4" y="0.6" width="7.8" height="5.2" rx="1.4" fill="url(#blb)"/><rect x="4" y="7.5" width="7.8" height="6.6" rx="1.4" fill="url(#blb)"/><rect x="5.2" y="13.8" width="5.2" height="2.4" fill="#eca88a"/><rect x="5.5" y="3.6" width="5" height="5.2" fill="#e6b894"/><rect x="0" y="4.4" width="15.7" height="3.5" fill="url(#orb)"/><rect x="5.6" y="4.2" width="4.8" height="4" fill="#e8bc98"/></svg><span class="tt" style="left:166.5px;top:1px;letter-spacing:0.1px">ISO 4035-M12...</span><span class="tt c3" style="top:1px;letter-spacing:0.1px">Écrous hexagonaux</span></div>
</div>
<svg class="scene" width="1045" height="910" viewBox="0 0 1045 910" style="position:absolute;left:0;top:0"><defs>
<linearGradient id="frontg" x1="0" y1="0" x2="0" y2="1"><stop offset="0" stop-color="#dcdcdc"/><stop offset="1" stop-color="#dedede"/></linearGradient>
<linearGradient id="washg" x1="0" y1="0" x2="1" y2="0"><stop offset="0" stop-color="#e0cf84"/><stop offset="0.4" stop-color="#eadb96"/><stop offset="1" stop-color="#c9b062"/></linearGradient>
<linearGradient id="nutg" x1="0" y1="0" x2="1" y2="0"><stop offset="0" stop-color="#d8c478"/><stop offset="0.5" stop-color="#e6d690"/><stop offset="1" stop-color="#d2bc6c"/></linearGradient>
<linearGradient id="headtop" x1="0" y1="0" x2="1" y2="1"><stop offset="0" stop-color="#554e82"/><stop offset="1" stop-color="#615a8c"/></linearGradient>
<linearGradient id="cylshade" x1="0" y1="0" x2="1" y2="0"><stop offset="0" stop-color="#000" stop-opacity="0.25"/><stop offset="0.35" stop-color="#fff" stop-opacity="0.15"/><stop offset="0.7" stop-color="#000" stop-opacity="0"/><stop offset="1" stop-color="#000" stop-opacity="0.3"/></linearGradient>
<pattern id="graythr" x="0" y="518" width="30" height="2.6" patternUnits="userSpaceOnUse"><rect width="30" height="2.6" fill="#c2c2ca"/><rect y="1.6" width="30" height="1" fill="#9a9aa8"/></pattern>
<pattern id="darkthr" x="0" y="0" width="30" height="2.8" patternUnits="userSpaceOnUse"><rect width="30" height="2.8" fill="#2f2b48"/><rect y="1.8" width="30" height="1" fill="#5c5878"/></pattern>
</defs><polygon points="649.3,477.5 822.0,499.2 756.8,556.4 584.1,534.7" fill="#fbfbfb" /><polygon points="584.1,534.7 756.8,556.4 756.8,591.6 584.1,569.9" fill="url(#frontg)" /><polygon points="756.8,556.4 822.0,499.2 822.0,534.4 756.8,591.6" fill="#e6e6e6" /><line x1="649.3" y1="477.5" x2="649.3" y2="512.7" stroke="#a0a0a0" stroke-width="0.9" /><line x1="649.3" y1="495.1" x2="822.0" y2="516.8" stroke="#ababab" stroke-width="0.9" stroke-dasharray="6 1.5"/><line x1="649.3" y1="512.7" x2="822.0" y2="534.4" stroke="#ababab" stroke-width="0.9" stroke-dasharray="6 1.5"/><line x1="649.3" y1="495.1" x2="584.1" y2="552.3" stroke="#444" stroke-width="1" stroke-dasharray="6 4.5"/><line x1="649.3" y1="512.7" x2="584.1" y2="569.9" stroke="#444" stroke-width="1" stroke-dasharray="6 4.5"/><line x1="649.3" y1="477.5" x2="822.0" y2="499.2" stroke="#4a4a4a" stroke-width="1" /><line x1="822.0" y1="499.2" x2="756.8" y2="556.4" stroke="#4a4a4a" stroke-width="1" /><line x1="756.8" y1="556.4" x2="584.1" y2="534.7" stroke="#4a4a4a" stroke-width="1" /><line x1="584.1" y1="534.7" x2="649.3" y2="477.5" stroke="#4a4a4a" stroke-width="1" /><line x1="584.1" y1="534.7" x2="584.1" y2="569.9" stroke="#4a4a4a" stroke-width="1" /><line x1="756.8" y1="556.4" x2="756.8" y2="591.6" stroke="#4a4a4a" stroke-width="1" /><line x1="822.0" y1="499.2" x2="822.0" y2="534.4" stroke="#4a4a4a" stroke-width="1" /><line x1="584.1" y1="552.3" x2="756.8" y2="574.0" stroke="#4a4a4a" stroke-width="1" /><line x1="756.8" y1="574.0" x2="822.0" y2="516.8" stroke="#4a4a4a" stroke-width="1" /><line x1="584.1" y1="569.9" x2="756.8" y2="591.6" stroke="#4a4a4a" stroke-width="1" /><line x1="756.8" y1="591.6" x2="822.0" y2="534.4" stroke="#4a4a4a" stroke-width="1" /><g transform="translate(0.0,0.0)"><path d="M691.8 578 L691.8 585.5 Q691.8 589 703 589 Q714.2 589 714.2 585.5 L714.2 578Z" fill="url(#darkthr)"/><rect x="691.8" y="578" width="22.4" height="10" fill="url(#cylshade)"/><path d="M683.9 565 L683.9 576.5 L690 581 L716 581 L721.6 576.5 L721.6 565Z" fill="url(#nutg)"/><line x1="704.5" y1="567" x2="704.5" y2="581" stroke="#b09850" stroke-width="0.8"/><path d="M683.9 575.5 L690 578.5 L716 578.5 L721.6 575.5" fill="none" stroke="#b8a058" stroke-width="0.7"/><path d="M690 581 L716 581" stroke="#9a8440" stroke-width="0.8"/><path d="M680.3 551.5 L680.3 561 Q680.3 567 703 567 Q725.6 567 725.6 561 L725.6 551.5Z" fill="url(#washg)"/><path d="M680.3 561 Q680.3 567 703 567 Q725.6 567 725.6 561" fill="none" stroke="#8c7a3a" stroke-width="0.9"/><ellipse cx="703" cy="551.5" rx="22.6" ry="5.8" fill="#eadf9e" stroke="#cdb868" stroke-width="0.6"/><ellipse cx="702.6" cy="552" rx="12" ry="3.4" fill="#86869a"/><rect x="690.3" y="518" width="23.8" height="34" fill="url(#graythr)"/><rect x="690.3" y="518" width="23.8" height="34" fill="url(#cylshade)"/><path d="M690.3 549 Q702 555 714.1 549 L714.1 552 Q702 557 690.3 552Z" fill="#7c7c90"/><path d="M686 531 L692 532.5 M714 535 L720 536.5 M690 548.5 L694 549 M714 552 L719 552.5 M699 555 L701 554" stroke="#ff6060" stroke-width="0.7"/><path d="M686.1 504 L686.8 520.6 L708 522.3 L720.7 518.3 L720.7 505 L703 505Z" fill="#403a66"/><path d="M708 509 L720.7 504 L720.7 518.3 L708 522.3Z" fill="#625b8d"/><path d="M686.1 504 L688.5 509 L708 510 L720.7 505 M708 510 L708 522.3" fill="none" stroke="#2e2850" stroke-width="0.7"/><path d="M686.1 504 Q686.5 499 703.4 498.4 Q720.5 498.8 720.7 504.5 Q718 509.5 704 510 Q688 509.5 686.1 504Z" fill="url(#headtop)"/><path d="M686.8 520.6 L708 522.3 L720.7 518.3" fill="none" stroke="#2a2448" stroke-width="0.9"/></g><polygon points="869.3,585.7 1042.0,607.4 976.8,664.6 804.1,642.9" fill="#fbfbfb" /><polygon points="804.1,642.9 976.8,664.6 976.8,699.8 804.1,678.1" fill="url(#frontg)" /><polygon points="976.8,664.6 1042.0,607.4 1042.0,642.6 976.8,699.8" fill="#e6e6e6" /><line x1="869.3" y1="585.7" x2="869.3" y2="620.9" stroke="#a0a0a0" stroke-width="0.9" /><line x1="869.3" y1="603.3" x2="1042.0" y2="625.0" stroke="#ababab" stroke-width="0.9" stroke-dasharray="6 1.5"/><line x1="869.3" y1="620.9" x2="1042.0" y2="642.6" stroke="#ababab" stroke-width="0.9" stroke-dasharray="6 1.5"/><line x1="869.3" y1="603.3" x2="804.1" y2="660.5" stroke="#444" stroke-width="1" stroke-dasharray="6 4.5"/><line x1="869.3" y1="620.9" x2="804.1" y2="678.1" stroke="#444" stroke-width="1" stroke-dasharray="6 4.5"/><line x1="869.3" y1="585.7" x2="1042.0" y2="607.4" stroke="#4a4a4a" stroke-width="1" /><line x1="1042.0" y1="607.4" x2="976.8" y2="664.6" stroke="#4a4a4a" stroke-width="1" /><line x1="976.8" y1="664.6" x2="804.1" y2="642.9" stroke="#4a4a4a" stroke-width="1" /><line x1="804.1" y1="642.9" x2="869.3" y2="585.7" stroke="#4a4a4a" stroke-width="1" /><line x1="804.1" y1="642.9" x2="804.1" y2="678.1" stroke="#4a4a4a" stroke-width="1" /><line x1="976.8" y1="664.6" x2="976.8" y2="699.8" stroke="#4a4a4a" stroke-width="1" /><line x1="1042.0" y1="607.4" x2="1042.0" y2="642.6" stroke="#4a4a4a" stroke-width="1" /><line x1="804.1" y1="660.5" x2="976.8" y2="682.2" stroke="#4a4a4a" stroke-width="1" /><line x1="976.8" y1="682.2" x2="1042.0" y2="625.0" stroke="#4a4a4a" stroke-width="1" /><line x1="804.1" y1="678.1" x2="976.8" y2="699.8" stroke="#4a4a4a" stroke-width="1" /><line x1="976.8" y1="699.8" x2="1042.0" y2="642.6" stroke="#4a4a4a" stroke-width="1" /><polygon points="607.7,672.0 780.4,693.7 715.2,750.9 542.5,729.2" fill="#fbfbfb" /><polygon points="542.5,729.2 715.2,750.9 715.2,786.1 542.5,764.4" fill="url(#frontg)" /><polygon points="715.2,750.9 780.4,693.7 780.4,728.9 715.2,786.1" fill="#e6e6e6" /><line x1="607.7" y1="672.0" x2="607.7" y2="707.2" stroke="#a0a0a0" stroke-width="0.9" /><line x1="607.7" y1="689.6" x2="780.4" y2="711.3" stroke="#ababab" stroke-width="0.9" stroke-dasharray="6 1.5"/><line x1="607.7" y1="707.2" x2="780.4" y2="728.9" stroke="#ababab" stroke-width="0.9" stroke-dasharray="6 1.5"/><line x1="607.7" y1="689.6" x2="542.5" y2="746.8" stroke="#444" stroke-width="1" stroke-dasharray="6 4.5"/><line x1="607.7" y1="707.2" x2="542.5" y2="764.4" stroke="#444" stroke-width="1" stroke-dasharray="6 4.5"/><line x1="607.7" y1="672.0" x2="780.4" y2="693.7" stroke="#4a4a4a" stroke-width="1" /><line x1="780.4" y1="693.7" x2="715.2" y2="750.9" stroke="#4a4a4a" stroke-width="1" /><line x1="715.2" y1="750.9" x2="542.5" y2="729.2" stroke="#4a4a4a" stroke-width="1" /><line x1="542.5" y1="729.2" x2="607.7" y2="672.0" stroke="#4a4a4a" stroke-width="1" /><line x1="542.5" y1="729.2" x2="542.5" y2="764.4" stroke="#4a4a4a" stroke-width="1" /><line x1="715.2" y1="750.9" x2="715.2" y2="786.1" stroke="#4a4a4a" stroke-width="1" /><line x1="780.4" y1="693.7" x2="780.4" y2="728.9" stroke="#4a4a4a" stroke-width="1" /><line x1="542.5" y1="746.8" x2="715.2" y2="768.5" stroke="#4a4a4a" stroke-width="1" /><line x1="715.2" y1="768.5" x2="780.4" y2="711.3" stroke="#4a4a4a" stroke-width="1" /><line x1="542.5" y1="764.4" x2="715.2" y2="786.1" stroke="#4a4a4a" stroke-width="1" /><line x1="715.2" y1="786.1" x2="780.4" y2="728.9" stroke="#4a4a4a" stroke-width="1" /><g transform="translate(-41.6,194.5)"><path d="M691.3 578 L691.3 620 Q691.3 624.5 702.7 624.5 Q714 624.5 714 620 L714 578Z" fill="url(#darkthr)"/><rect x="691.3" y="578" width="22.7" height="46" fill="url(#cylshade)"/><path d="M683.9 565 L683.9 576.5 L690 581 L716 581 L721.6 576.5 L721.6 565Z" fill="url(#nutg)"/><line x1="704.5" y1="567" x2="704.5" y2="581" stroke="#b09850" stroke-width="0.8"/><path d="M683.9 575.5 L690 578.5 L716 578.5 L721.6 575.5" fill="none" stroke="#b8a058" stroke-width="0.7"/><path d="M690 581 L716 581" stroke="#9a8440" stroke-width="0.8"/><path d="M680.3 551.5 L680.3 561 Q680.3 567 703 567 Q725.6 567 725.6 561 L725.6 551.5Z" fill="url(#washg)"/><path d="M680.3 561 Q680.3 567 703 567 Q725.6 567 725.6 561" fill="none" stroke="#8c7a3a" stroke-width="0.9"/><ellipse cx="703" cy="551.5" rx="22.6" ry="5.8" fill="#eadf9e" stroke="#cdb868" stroke-width="0.6"/><ellipse cx="702.6" cy="552" rx="12" ry="3.4" fill="#86869a"/><rect x="690.3" y="518" width="23.8" height="34" fill="url(#graythr)"/><rect x="690.3" y="518" width="23.8" height="34" fill="url(#cylshade)"/><path d="M690.3 549 Q702 555 714.1 549 L714.1 552 Q702 557 690.3 552Z" fill="#7c7c90"/><path d="M686 531 L692 532.5 M714 535 L720 536.5 M690 548.5 L694 549 M714 552 L719 552.5 M699 555 L701 554" stroke="#ff6060" stroke-width="0.7"/><path d="M686.1 504 L686.8 520.6 L708 522.3 L720.7 518.3 L720.7 505 L703 505Z" fill="#403a66"/><path d="M708 509 L720.7 504 L720.7 518.3 L708 522.3Z" fill="#625b8d"/><path d="M686.1 504 L688.5 509 L708 510 L720.7 505 M708 510 L708 522.3" fill="none" stroke="#2e2850" stroke-width="0.7"/><path d="M686.1 504 Q686.5 499 703.4 498.4 Q720.5 498.8 720.7 504.5 Q718 509.5 704 510 Q688 509.5 686.1 504Z" fill="url(#headtop)"/><path d="M686.8 520.6 L708 522.3 L720.7 518.3" fill="none" stroke="#2a2448" stroke-width="0.9"/></g></svg>
</body></html>
